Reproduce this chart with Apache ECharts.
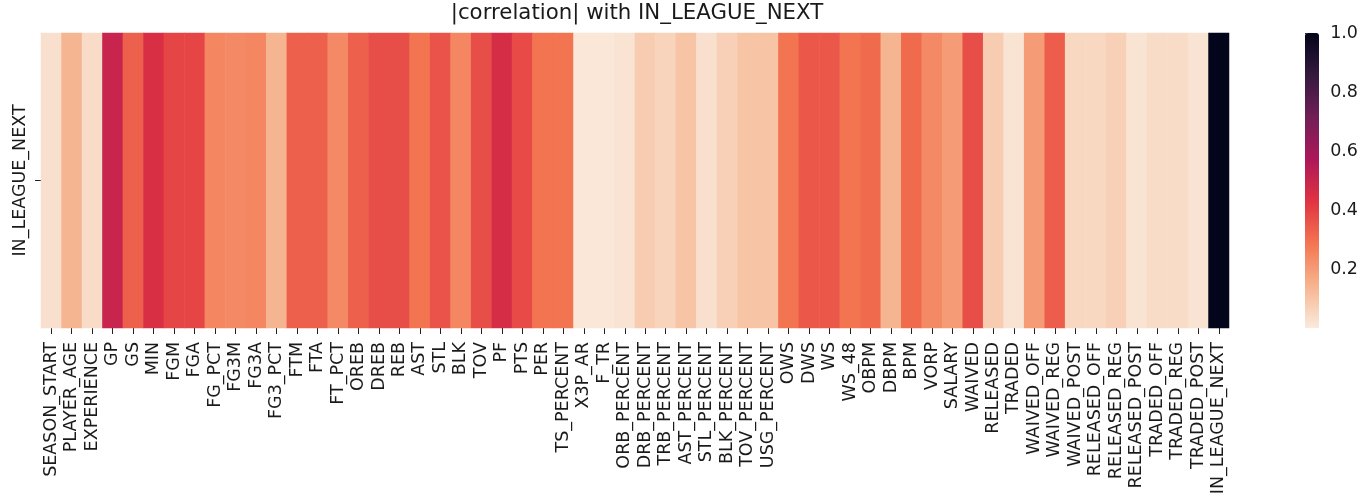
<!DOCTYPE html>
<html>
<head>
<meta charset="utf-8">
<script src="https://cdn.jsdelivr.net/npm/echarts@6/dist/echarts.min.js"></script>
<style>
html,body{margin:0;padding:0;background:#fff;}
#chart{width:1361px;height:499px;}
</style>
</head>
<body>
<div id="chart"></div>
<script>
var categories = ["SEASON_START","PLAYER_AGE","EXPERIENCE","GP","GS","MIN","FGM","FGA","FG_PCT","FG3M","FG3A","FG3_PCT","FTM","FTA","FT_PCT","OREB","DREB","REB","AST","STL","BLK","TOV","PF","PTS","PER","TS_PERCENT","X3P_AR","F_TR","ORB_PERCENT","DRB_PERCENT","TRB_PERCENT","AST_PERCENT","STL_PERCENT","BLK_PERCENT","TOV_PERCENT","USG_PERCENT","OWS","DWS","WS","WS_48","OBPM","DBPM","BPM","VORP","SALARY","WAIVED","RELEASED","TRADED","WAIVED_OFF","WAIVED_REG","WAIVED_POST","RELEASED_OFF","RELEASED_REG","RELEASED_POST","TRADED_OFF","TRADED_REG","TRADED_POST","IN_LEAGUE_NEXT"];
var rowLabels = ["IN_LEAGUE_NEXT"];
var absCorr = [0.03,0.14,0.04,0.50,0.33,0.45,0.39,0.39,0.25,0.24,0.25,0.14,0.33,0.33,0.24,0.33,0.37,0.37,0.29,0.36,0.25,0.37,0.46,0.38,0.29,0.29,0.01,0.01,0.02,0.08,0.06,0.10,0.03,0.07,0.10,0.10,0.29,0.35,0.35,0.29,0.31,0.14,0.31,0.24,0.20,0.37,0.08,0.02,0.20,0.34,0.05,0.05,0.07,0.02,0.04,0.04,0.02,1.00];
var colorbarTicks = [0.2,0.4,0.6,0.8,1.0];
var rocketR = ["#faebdd","#f6b48f","#f37651","#e13342","#ad1759","#701f57","#35193e","#03051a"];

var heatData = absCorr.map(function(v,i){return [i,0,v];});
var chart = echarts.init(document.getElementById('chart'), null, {renderer:'canvas'});
var font = 'DejaVu Sans';
chart.setOption({
  animation:false,
  backgroundColor:'#ffffff',
  title:{
    text:'|correlation| with IN_LEAGUE_NEXT',
    left:637, top:3, padding:0, textAlign:'center',
    textStyle:{fontFamily:font,fontSize:21.3,fontWeight:'normal',color:'#1a1a1a'}
  },
  grid:[
    {left:41,top:33,width:1188,height:295},
    {left:1305,top:33,width:14,height:295}
  ],
  xAxis:[
    {type:'category',gridIndex:0,data:categories,position:'bottom',
     axisLine:{show:false},
     axisTick:{show:true,alignWithLabel:true,length:6,lineStyle:{color:'#222',width:1}},
     axisLabel:{rotate:90,interval:0,margin:14,fontFamily:font,fontSize:17.5,color:'#1a1a1a'},
     splitLine:{show:false}},
    {type:'value',gridIndex:1,show:false,min:0,max:1}
  ],
  yAxis:[
    {type:'category',gridIndex:0,data:rowLabels,
     axisLine:{show:false},
     axisTick:{show:true,alignWithLabel:true,length:6,lineStyle:{color:'#222',width:1}},
     axisLabel:{rotate:90,margin:12,fontFamily:font,fontSize:17.5,color:'#1a1a1a'},
     splitLine:{show:false}},
    {type:'value',gridIndex:1,position:'right',min:0,max:1,
     axisLine:{show:false},
     axisTick:{show:true,length:6,customValues:colorbarTicks,lineStyle:{color:'#222',width:1}},
     axisLabel:{margin:14,fontFamily:font,fontSize:17.5,color:'#1a1a1a',customValues:colorbarTicks,
       formatter:function(v){return v.toFixed(1);}},
     splitLine:{show:false}}
  ],
  visualMap:{
    type:'continuous',min:0,max:1,seriesIndex:0,
    orient:'vertical',left:1305,top:33,padding:0,
    itemWidth:14,itemHeight:295,
    text:null,showLabel:false,calculable:false,hoverLink:false,
    inRange:{color:rocketR}
  },
  series:[{
    type:'heatmap',xAxisIndex:0,yAxisIndex:0,data:heatData,
    itemStyle:{borderWidth:0},
    emphasis:{disabled:true}
  }]
});
</script>
</body>
</html>
